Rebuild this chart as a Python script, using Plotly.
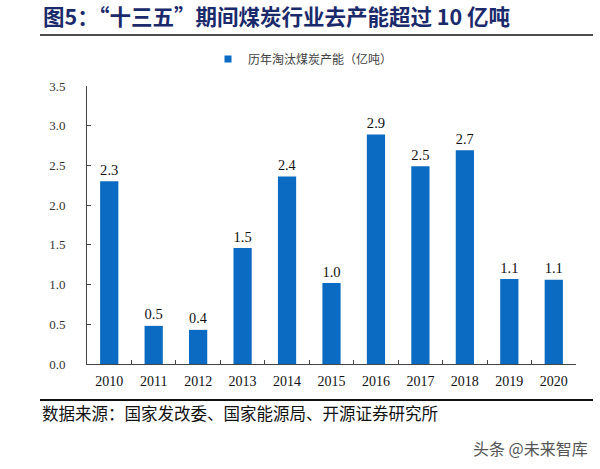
import plotly.graph_objects as go

years = ["2010", "2011", "2012", "2013", "2014", "2015", "2016", "2017", "2018", "2019", "2020"]
capacity = [2.30, 0.48, 0.43, 1.46, 2.36, 1.02, 2.89, 2.49, 2.69, 1.07, 1.06]
series_name = "历年淘汰煤炭产能（亿吨）"
title_text = "图5：“十三五”期间煤炭行业去产能超过 10 亿吨"
source_text = "数据来源：国家发改委、国家能源局、开源证券研究所"
watermark = "头条 @未来智库"

W, H = 600, 469
L, R, T, B = 87, 24, 86, 105

serif = "Liberation Serif, Times New Roman, Noto Sans CJK SC, serif"
BLUE = "#0B6BC2"

fig = go.Figure()
fig.add_trace(go.Bar(
    x=years, y=capacity, name=series_name, showlegend=False,
    marker=dict(color=BLUE, line=dict(width=0)),
    width=0.41,
    texttemplate="%{y:.1f}", textposition="outside",
    textfont=dict(family=serif, size=17, color="#111111"),
    cliponaxis=False,
))
# legend entry (small square marker like the original)
fig.add_trace(go.Scatter(
    x=[None], y=[None], mode="markers", name=series_name,
    marker=dict(symbol="square", size=7, color=BLUE),
))

def px_x(p):
    return (p - L) / (W - L - R)

def px_y(p):
    return (H - B - p) / (H - T - B)

fig.update_layout(
    width=W, height=H,
    margin=dict(l=L, r=R, t=T, b=B, autoexpand=False),
    plot_bgcolor="white", paper_bgcolor="white",
    showlegend=True,
    legend=dict(orientation="h", x=px_x(208), xanchor="left", xref="paper",
                y=px_y(59), yanchor="middle", yref="paper",
                font=dict(family="Noto Sans CJK SC", size=12, color="#404040"),
                bgcolor="rgba(0,0,0,0)", itemwidth=30),
    shapes=[
        # line under title
        dict(type="line", xref="paper", yref="paper", layer="above",
             x0=px_x(40), x1=px_x(593), y0=px_y(35), y1=px_y(35),
             line=dict(color="#4d4d4d", width=2)),
        # line above source
        dict(type="line", xref="paper", yref="paper", layer="above",
             x0=px_x(40), x1=px_x(593), y0=px_y(400), y1=px_y(400),
             line=dict(color="#111111", width=2)),
    ],
)
fig.update_xaxes(
    type="category", showline=True, linecolor="#444444", linewidth=1,
    ticks="inside", ticklen=4, tickcolor="#444444", tickson="boundaries",
    tickfont=dict(family=serif, size=14, color="#111111"),
    ticklabelstandoff=4,
    showgrid=False, zeroline=False, automargin=False,
)
fig.update_yaxes(
    range=[0, 3.5], dtick=0.5, tickformat=".1f",
    showline=True, linecolor="#444444", linewidth=1,
    ticks="inside", ticklen=4, tickcolor="#444444",
    tickfont=dict(family=serif, size=13, color="#333333"),
    ticklabelstandoff=18,
    showgrid=False, zeroline=False, automargin=False,
)

# Title (box bottom kept above the underline)
fig.add_annotation(text="<b>" + title_text + "</b>", xref="paper", yref="paper",
                   x=px_x(42), y=px_y(32), xanchor="left", yanchor="bottom",
                   showarrow=False, bgcolor="rgba(0,0,0,0)", borderpad=0,
                   font=dict(family="Noto Sans CJK SC", size=21.5, color="#1B2A6B"))
# Source
fig.add_annotation(text=source_text, xref="paper", yref="paper",
                   x=px_x(40), y=px_y(413), xanchor="left", yanchor="middle",
                   showarrow=False,
                   font=dict(family="Noto Sans CJK SC", size=16.5, color="#111111"))
# Watermark
fig.add_annotation(text=watermark, xref="paper", yref="paper",
                   x=px_x(590), y=px_y(448), xanchor="right", yanchor="middle",
                   showarrow=False,
                   font=dict(family="Noto Sans CJK SC", size=16, color="#555555"))

fig.write_html("out.html", config={"displayModeBar": False},
               post_script="document.body.style.margin='0';")
